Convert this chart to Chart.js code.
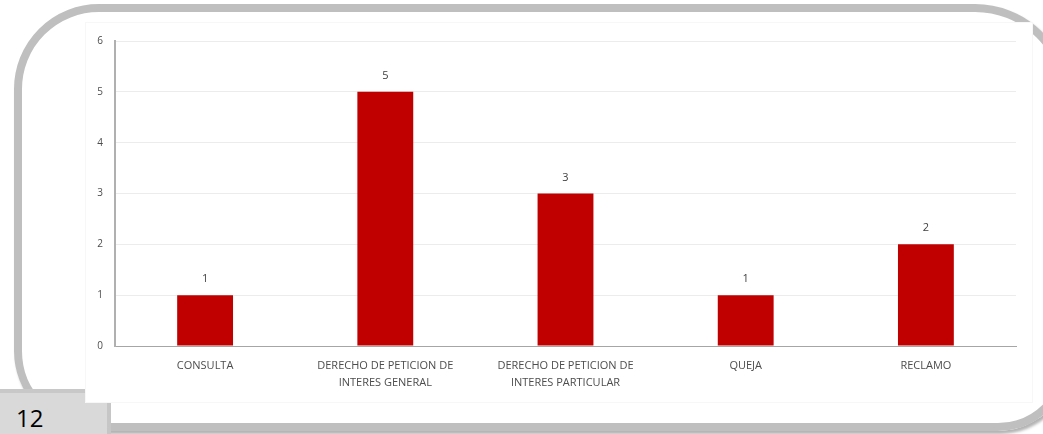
<!DOCTYPE html>
<html>
<head>
<meta charset="utf-8">
<script src="https://cdn.jsdelivr.net/npm/chart.js@4"></script>
<style>
  html, body { margin:0; padding:0; background:#fff; width:1043px; height:434px; overflow:hidden; position:relative; }
  #frame { position:absolute; left:14px; top:4px; width:1040px; height:411px; border:8px solid #bfbfbf;
           border-radius:85px 95px 72px 80px; box-shadow:2px 3px 3px rgba(0,0,0,0.3); }
  #pagebox { position:absolute; left:0; top:389px; width:107px; height:41px; background:#d9d9d9;
             border-top:4px solid #c8c8c8;
             box-shadow:4px 0 0 #c6c6c6; font-family:"Open Sans", sans-serif; font-size:24px; color:#000; }
  #pagebox span { position:absolute; left:16px; top:10px; line-height:30px; }
  #img { position:absolute; left:86px; top:23px; width:946px; height:379px; background:#fff;
         box-shadow:0 0 0 1px #f7f7f7; }
  canvas { display:block; }
</style>
</head>
<body>
<div id="frame"></div>
<div id="pagebox"><span>12</span></div>
<div id="img"><canvas id="c" width="946" height="379"></canvas></div>
<script>
const categories = [
  ["CONSULTA"],
  ["DERECHO DE PETICION DE", "INTERES GENERAL"],
  ["DERECHO DE PETICION DE", "INTERES PARTICULAR"],
  ["QUEJA"],
  ["RECLAMO"]
];
const values = [1, 5, 3, 1, 2];
const yTicks = [0, 1, 2, 3, 4, 5, 6];

const valueLabels = {
  id: 'valueLabels',
  afterDatasetsDraw(chart) {
    const ctx = chart.ctx;
    const meta = chart.getDatasetMeta(0);
    ctx.save();
    ctx.font = '11px "Open Sans", sans-serif';
    ctx.fillStyle = '#404040';
    ctx.textAlign = 'center';
    ctx.textBaseline = 'middle';
    meta.data.forEach((bar, i) => {
      ctx.fillText(String(chart.data.datasets[0].data[i]), bar.x, bar.y - 16);
    });
    ctx.restore();
  }
};

new Chart(document.getElementById('c'), {
  type: 'bar',
  data: {
    labels: categories,
    datasets: [{
      data: values,
      backgroundColor: '#c00000',
      borderWidth: 0,
      categoryPercentage: 1,
      barPercentage: 0.31
    }]
  },
  options: {
    responsive: false,
    animation: false,
    devicePixelRatio: 1,
    layout: { padding: { top: 18, right: 16, left: 0, bottom: 0 } },
    plugins: { legend: { display: false }, tooltip: { enabled: false } },
    scales: {
      x: {
        grid: { display: false, drawTicks: false },
        border: { display: true, color: '#a6a6a6', width: 1 },
        ticks: {
          color: '#4d4d4d',
          font: { family: '"Open Sans", sans-serif', size: 11, lineHeight: 1.55 },
          padding: 11,
          maxRotation: 0,
          autoSkip: false
        },
        afterFit(s) { s.height = 56; }
      },
      y: {
        min: 0, max: 6,
        afterBuildTicks(s) { s.ticks = yTicks.map(v => ({ value: v })); },
        grid: { color: '#ececec', drawTicks: false },
        border: { display: true, color: '#b0b0b0', width: 2 },
        ticks: {
          color: '#4d4d4d',
          font: { family: '"Open Sans", sans-serif', size: 10 },
          padding: 12
        },
        afterFit(s) { s.width = 29; }
      }
    }
  },
  plugins: [valueLabels]
});
</script>
</body>
</html>
